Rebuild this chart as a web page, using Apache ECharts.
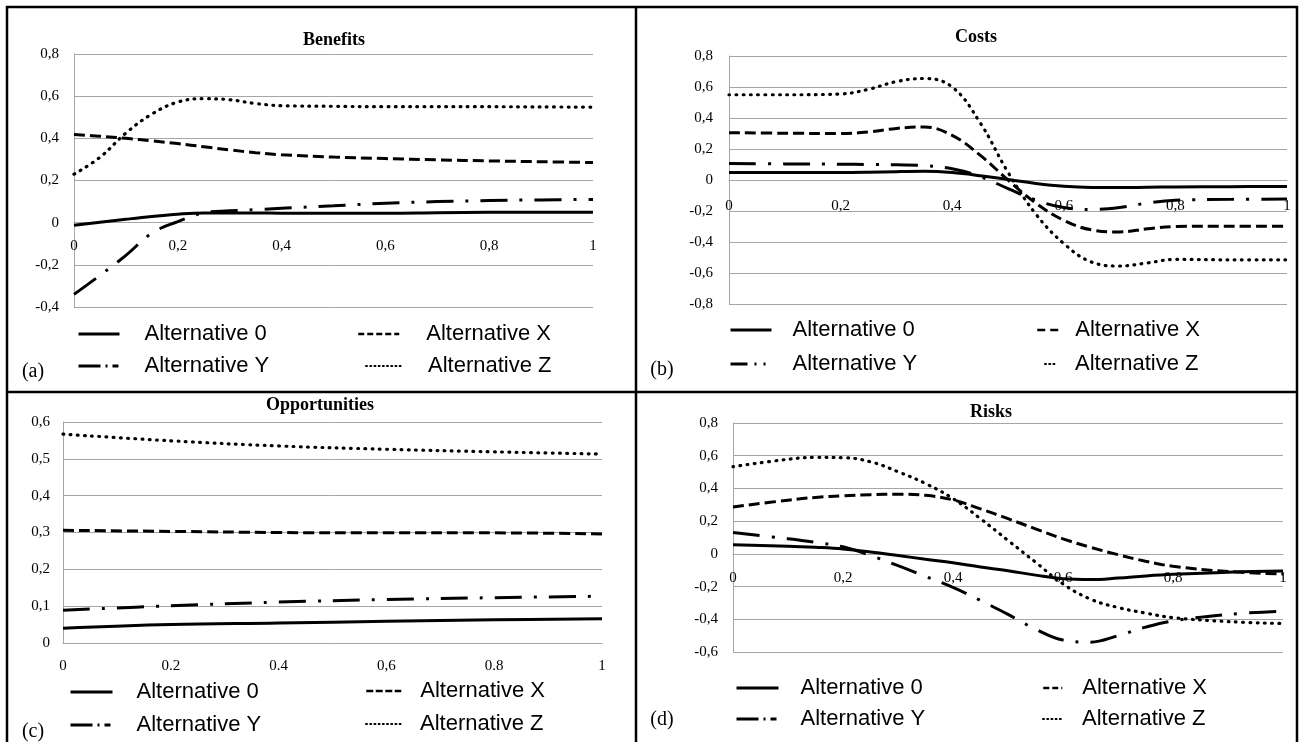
<!DOCTYPE html>
<html><head><meta charset="utf-8">
<script src="https://cdn.jsdelivr.net/npm/echarts/dist/echarts.min.js"></script>
<style>html,body{margin:0;padding:0;background:#fff}#c{width:1299px;height:742px}</style>
</head><body><div id="c"></div><script>
// ---------- data ----------
const seriesNames = ['Alternative 0', 'Alternative X', 'Alternative Y', 'Alternative Z'];

// (a) Benefits
const benefitsX    = [0, 0.05, 0.1, 0.15, 0.2, 0.25, 0.3, 0.35, 0.4, 0.5, 0.6, 0.7, 0.8, 0.9, 1];
const benefitsAlt0 = [-0.012, 0.002, 0.016, 0.029, 0.04, 0.046, 0.046, 0.046, 0.045, 0.045, 0.045, 0.047, 0.049, 0.05, 0.05];
const benefitsAltX = [0.418, 0.41, 0.4, 0.388, 0.375, 0.36, 0.345, 0.332, 0.322, 0.311, 0.304, 0.298, 0.293, 0.289, 0.285];
const benefitsAltY = [-0.34, -0.25, -0.155, -0.05, 0.005, 0.046, 0.056, 0.062, 0.068, 0.08, 0.092, 0.1, 0.105, 0.108, 0.11];
const benefitsAltZ = [0.23, 0.31, 0.425, 0.515, 0.572, 0.588, 0.583, 0.565, 0.555, 0.552, 0.55, 0.55, 0.55, 0.549, 0.548];

// (b) Costs
const costsX    = [0, 0.1, 0.2, 0.25, 0.3, 0.35, 0.4, 0.45, 0.5, 0.55, 0.6, 0.65, 0.7, 0.75, 0.8, 0.9, 1];
const costsAlt0 = [0.049, 0.048, 0.048, 0.05, 0.054, 0.056, 0.048, 0.028, 0.003, -0.022, -0.04, -0.048, -0.049, -0.047, -0.045, -0.043, -0.042];
const costsAltX = [0.305, 0.302, 0.3, 0.31, 0.333, 0.342, 0.288, 0.16, 0.0, -0.15, -0.26, -0.322, -0.335, -0.315, -0.3, -0.298, -0.298];
const costsAltY = [0.107, 0.104, 0.102, 0.1, 0.098, 0.093, 0.072, 0.022, -0.055, -0.13, -0.178, -0.19, -0.178, -0.148, -0.13, -0.125, -0.123];
const costsAltZ = [0.55, 0.55, 0.555, 0.585, 0.635, 0.655, 0.6, 0.37, 0.05, -0.22, -0.41, -0.53, -0.555, -0.535, -0.512, -0.515, -0.515];

// (c) Opportunities
const oppX    = [0, 0.2, 0.4, 0.6, 0.8, 1];
const oppAlt0 = [0.04, 0.05, 0.054, 0.059, 0.063, 0.066];
const oppAltX = [0.306, 0.303, 0.3, 0.299, 0.299, 0.296];
const oppAltY = [0.089, 0.101, 0.111, 0.118, 0.123, 0.127];
const oppAltZ = [0.567, 0.549, 0.535, 0.526, 0.519, 0.513];

// (d) Risks
const risksX    = [0, 0.1, 0.15, 0.2, 0.25, 0.3, 0.35, 0.4, 0.45, 0.5, 0.55, 0.6, 0.65, 0.7, 0.75, 0.8, 0.9, 1];
const risksAlt0 = [0.055, 0.047, 0.04, 0.03, 0.012, -0.01, -0.033, -0.055, -0.08, -0.103, -0.13, -0.152, -0.157, -0.148, -0.135, -0.125, -0.112, -0.105];
const risksAltX = [0.287, 0.328, 0.345, 0.355, 0.362, 0.365, 0.358, 0.33, 0.275, 0.215, 0.153, 0.092, 0.04, -0.005, -0.045, -0.076, -0.108, -0.123];
const risksAltY = [0.13, 0.092, 0.07, 0.043, -0.01, -0.072, -0.138, -0.205, -0.285, -0.37, -0.46, -0.527, -0.54, -0.5, -0.448, -0.41, -0.37, -0.35];
const risksAltZ = [0.533, 0.578, 0.59, 0.588, 0.563, 0.502, 0.43, 0.338, 0.215, 0.082, -0.051, -0.184, -0.277, -0.328, -0.362, -0.39, -0.414, -0.426];

// tick labels
const xTicksStd  = ['0', '0,2', '0,4', '0,6', '0,8', '1'];
const xTicksOpp  = ['0', '0.2', '0.4', '0,6', '0.8', '1'];
const yTicksA = ['-0,4', '-0,2', '0', '0,2', '0,4', '0,6', '0,8'];
const yTicksB = ['-0,8', '-0,6', '-0,4', '-0,2', '0', '0,2', '0,4', '0,6', '0,8'];
const yTicksC = ['0', '0,1', '0,2', '0,3', '0,4', '0,5', '0,6'];
const yTicksD = ['-0,6', '-0,4', '-0,2', '0', '0,2', '0,4', '0,6', '0,8'];

const panelTitles = ['Benefits', 'Costs', 'Opportunities', 'Risks'];
const panelTags = ['(a)', '(b)', '(c)', '(d)'];

// ---------- styles / layout ----------
const lineStyles = {
  'Alternative 0': { color: '#000', width: 3, type: 'solid' },
  'Alternative X': { color: '#000', width: 3, type: [11, 5] },
  'Alternative Y': { color: '#000', width: 3, type: [27, 12, 3, 12] },
  'Alternative Z': { color: '#000', width: 3.2, type: [0.8, 6.4], cap: 'round' }
};
const grids = [
  { left: 74, top: 54, width: 519, height: 253 },
  { left: 729, top: 56, width: 558, height: 248 },
  { left: 63, top: 422, width: 539, height: 221 },
  { left: 733, top: 423, width: 550, height: 229 }
];
const yCfg = [
  { min: -0.4, max: 0.8, interval: 0.2, labels: yTicksA, margin: 15 },
  { min: -0.8, max: 0.8, interval: 0.2, labels: yTicksB, margin: 16 },
  { min: 0, max: 0.6, interval: 0.1, labels: yTicksC, margin: 13 },
  { min: -0.6, max: 0.8, interval: 0.2, labels: yTicksD, margin: 15 }
];
const xCfg = [
  { labels: xTicksStd, margin: 16 },
  { labels: xTicksStd, margin: 19 },
  { labels: xTicksOpp, margin: 16 },
  { labels: xTicksStd, margin: 17 }
];
const panelData = [
  [benefitsX, [benefitsAlt0, benefitsAltX, benefitsAltY, benefitsAltZ]],
  [costsX, [costsAlt0, costsAltX, costsAltY, costsAltZ]],
  [oppX, [oppAlt0, oppAltX, oppAltY, oppAltZ]],
  [risksX, [risksAlt0, risksAltX, risksAltY, risksAltZ]]
];
const titlePos = [[334, 40], [976, 37], [320, 405], [991, 412]];
const tagPos = [[33, 372], [662, 370], [33, 732], [662, 720]];

const gray = '#a6a6a6';
const serif = '"Liberation Serif", "Times New Roman", serif';
const sans = '"Liberation Sans", Arial, sans-serif';

const xAxes = [], yAxes = [], series = [];
grids.forEach((g, i) => {
  const xl = xCfg[i].labels, yc = yCfg[i];
  // the x axis sits on the y = 0 line of its own scale
  const zeroOffset = g.height * (0 - yc.min) / (yc.max - yc.min);
  xAxes.push({
    type: 'value', gridIndex: i, min: 0, max: 1, interval: 0.2,
    position: 'bottom', offset: -zeroOffset,
    axisLine: { onZero: false, lineStyle: { color: gray, width: 1 } },
    axisTick: { show: false }, splitLine: { show: false },
    axisLabel: { margin: xCfg[i].margin, color: '#000', fontFamily: serif, fontSize: 15,
      formatter: v => xl[Math.round(v / 0.2)] }
  });
  yAxes.push({
    type: 'value', gridIndex: i, min: yc.min, max: yc.max, interval: yc.interval,
    axisLine: { show: true, lineStyle: { color: gray, width: 1 } },
    axisTick: { show: false },
    splitLine: { show: true, lineStyle: { color: gray, width: 1 } },
    axisLabel: { margin: yc.margin, color: '#000', fontFamily: serif, fontSize: 15,
      formatter: v => yc.labels[Math.round((v - yc.min) / yc.interval)] }
  });
  const xs = panelData[i][0];
  panelData[i][1].forEach((ys, k) => {
    const name = seriesNames[k];
    series.push({
      name, type: 'line', xAxisIndex: i, yAxisIndex: i, smooth: 0.4,
      symbol: 'none', silent: true, animation: false,
      lineStyle: lineStyles[name], itemStyle: { color: '#000' },
      data: xs.map((x, j) => [x, ys[j]]),
      z: 3
    });
  });
});

// legend samples (icon patterns as drawn in the reference legends)
const lgY = { color: '#000', width: 3, type: [22, 5, 2, 5, 6, 40] };
const lgZ = { color: '#000', width: 2, type: [1, 3.2], cap: 'round' };
const lgSolid = { color: '#000', width: 3, type: 'solid' };
const hiddenSymbol = { color: 'rgba(0,0,0,0)', borderWidth: 0, opacity: 0 };
function lg(name, left, cy, w, pad, ls) {
  return {
    data: [{ name, lineStyle: ls, itemStyle: hiddenSymbol }], left, top: cy - 12, itemWidth: w, itemHeight: 14,
    padding: 0, selectedMode: false, orient: 'horizontal', itemStyle: hiddenSymbol,
    textStyle: { fontFamily: sans, fontSize: 22, lineHeight: 24, color: '#000', padding: [0, 0, 0, pad] }
  };
}
const legends = [
  // (a)
  lg('Alternative 0', 77, 334, 41, 20, lgSolid),
  lg('Alternative Y', 77, 366, 41, 20, lgY),
  lg('Alternative X', 357, 334, 41, 22, { color: '#000', width: 2.5, type: [6, 3] }),
  lg('Alternative Z', 365, 366, 35, 22, lgZ),
  // (b)
  lg('Alternative 0', 729, 330, 41, 16, lgSolid),
  lg('Alternative Y', 729, 364, 41, 16, { color: '#000', width: 3, type: [17, 7, 2, 7, 2, 40] }),
  lg('Alternative X', 1036, 330, 23, 10, { color: '#000', width: 2.5, type: [8, 5] }),
  lg('Alternative Z', 1044, 364, 11, 14, lgZ),
  // (c)
  lg('Alternative 0', 69, 692, 42, 19, lgSolid),
  lg('Alternative Y', 69, 725, 42, 19, lgY),
  lg('Alternative X', 365, 691, 35, 14, { color: '#000', width: 2.5, type: [7, 2.5] }),
  lg('Alternative Z', 365, 724, 35, 14, lgZ),
  // (d)
  lg('Alternative 0', 735, 688, 42, 17, lgSolid),
  lg('Alternative Y', 735, 719, 42, 17, lgY),
  lg('Alternative X', 1042, 688, 19, 15, { color: '#000', width: 2.5, type: [6, 3, 6, 3, 2, 10] }),
  lg('Alternative Z', 1042, 719, 19, 15, lgZ)
];

const graphic = [
  { type: 'rect', silent: true, shape: { x: 7, y: 7, width: 1290, height: 740 }, style: { fill: 'none', stroke: '#000', lineWidth: 2.5 } },
  { type: 'line', silent: true, shape: { x1: 636, y1: 7, x2: 636, y2: 745 }, style: { stroke: '#000', lineWidth: 2.5 } },
  { type: 'line', silent: true, shape: { x1: 7, y1: 392, x2: 1297, y2: 392 }, style: { stroke: '#000', lineWidth: 2.5 } }
];
panelTitles.forEach((t, i) => graphic.push({
  type: 'text', silent: true, x: titlePos[i][0], y: titlePos[i][1],
  style: { text: t, font: 'bold 18px ' + serif, fill: '#000', align: 'center', verticalAlign: 'middle' }
}));
panelTags.forEach((t, i) => graphic.push({
  type: 'text', silent: true, x: tagPos[i][0], y: tagPos[i][1],
  style: { text: t, font: '20px ' + serif, fill: '#000', align: 'center', verticalAlign: 'middle' }
}));

const chart = echarts.init(document.getElementById('c'), null, { renderer: 'canvas' });
chart.setOption({
  backgroundColor: '#fff',
  animation: false,
  grid: grids.map(g => Object.assign({ containLabel: false, outerBoundsMode: 'none' }, g)),
  xAxis: xAxes,
  yAxis: yAxes,
  legend: legends,
  series,
  graphic
});
</script></body></html>
